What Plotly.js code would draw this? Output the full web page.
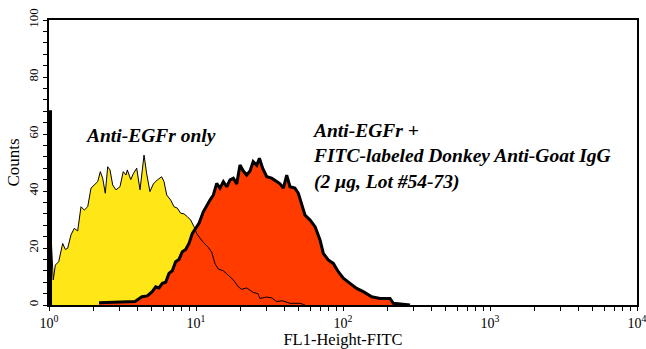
<!DOCTYPE html>
<html>
<head>
<meta charset="utf-8">
<script src="https://cdn.plot.ly/plotly-3.0.1.min.js"></script>
<style>html,body{margin:0;padding:0;background:#fff;}#chart{width:646px;height:349px;}</style>
</head>
<body>
<div id="chart"></div>
<script>
// Anti-EGFr only (yellow)
const yellowFL1 = [1.0, 1.032, 1.069, 1.104, 1.164, 1.239, 1.291, 1.34, 1.411, 1.486, 1.567, 1.651, 1.738, 1.834, 1.931, 2.033, 2.145, 2.234, 2.318, 2.415, 2.508, 2.6, 2.712, 2.855, 3.04, 3.2, 3.34, 3.41, 3.6, 3.74, 3.95, 4.16, 4.43, 4.62, 4.86, 5.13, 5.46, 5.84, 6.06, 6.32, 6.73, 7.08, 7.46, 7.87, 8.28, 8.73, 9.2, 9.69, 10.11, 10.64, 11.21, 12.13, 12.79, 13.47, 14.19, 15.35, 16.6, 17.95, 19.41, 20.46, 22.13, 23.3, 24.5, 26.4, 27.2, 30.3, 32.7, 35.4, 38.5, 43.6, 51.0, 55.1];
const yellowCounts = [24.6, 24.6, 8.8, 14, 15.2, 21.6, 19.5, 19.9, 24.6, 26.9, 26, 34.5, 33.3, 34.5, 41, 42.1, 43.3, 46.8, 44.5, 39.2, 48.5, 47.4, 42.1, 40.4, 41.5, 46.8, 45.6, 47.4, 44, 46, 48, 40.4, 52.6, 46, 39.8, 42.5, 43.9, 45, 43.3, 38.6, 36.8, 34.5, 34, 32.2, 32, 31, 29.8, 27.5, 25.1, 23.5, 22, 20.2, 18.5, 14.5, 12.6, 12, 10.5, 8.8, 6.4, 5.5, 6, 5.2, 4.4, 4, 2.3, 2.8, 2.5, 1.2, 1.5, 0.6, 0.6, 0];

// Anti-EGFr + FITC-labeled Donkey Anti-Goat IgG (red): first-channel pile-up, then main peak
const redSpikeFL1 = [1.0, 1.0, 1.032, 1.032];
const redSpikeCounts = [0, 68, 68, 0];
const redFL1 = [2.19, 3.24, 3.85, 4.29, 4.66, 5.04, 5.32, 5.6, 5.9, 6.22, 6.55, 6.9, 7.27, 7.66, 8.07, 8.51, 8.96, 9.44, 9.95, 10.48, 11.21, 11.83, 12.45, 13.12, 13.83, 14.56, 15.35, 16.18, 17.04, 17.95, 18.92, 19.92, 20.99, 22.13, 23.3, 24.5, 25.9, 27.0, 28.4, 30.3, 32.7, 35.4, 37.3, 39.3, 41.4, 43.6, 47.1, 49.7, 52.4, 55.1, 59.7, 64.6, 69.8, 73.5, 79.4, 85.9, 92.9, 100.5, 111.6, 123.9, 137.4, 156.7, 178.6, 208.9, 219.9, 271.2, 285.6];
const redCounts = [0.8, 1.2, 1.2, 2.9, 3.2, 4.7, 6.4, 6, 7.6, 8, 11.1, 12, 15.2, 16, 18.7, 19.5, 21.6, 25.1, 26.9, 28.7, 32.7, 35.1, 36.8, 38.6, 42.7, 41, 43.3, 41.5, 43.9, 44.5, 42.5, 49.1, 47, 45.6, 47, 50.3, 49, 51.5, 48, 45, 44.5, 43.3, 42.5, 41, 45.6, 41.5, 41, 39.2, 35.1, 31.6, 29.8, 27.5, 22.8, 18.1, 15.8, 14.6, 11.7, 9.4, 7.6, 5.8, 4.7, 2.9, 2.3, 2.3, 0.6, 0.3, 0];

const xTickVals = [];
const xTickText = [];
const decades = [1, 10, 100, 1000];
decades.forEach(d => { for (let m = 1; m <= 9; m++) { xTickVals.push(m*d); xTickText.push(m === 1 ? '10<sup>' + Math.round(Math.log10(d)) + '</sup>' : ''); } });
xTickVals.push(10000); xTickText.push('10<sup>4</sup>');

const yTickVals = [];
const yTickText = [];
for (let v = 0; v <= 100; v += 4) { yTickVals.push(v); yTickText.push(v % 20 === 0 ? String(v) : ''); }

const serif = '"Liberation Serif"';

const traces = [
  {x: yellowFL1, y: yellowCounts, type: 'scatter', mode: 'lines', fill: 'tozeroy', fillcolor: '#FFE617', line: {width: 0, color: '#FFE617'}, hoverinfo: 'skip'},
  {x: redSpikeFL1, y: redSpikeCounts, type: 'scatter', mode: 'lines', fill: 'tozeroy', fillcolor: '#000', line: {width: 2, color: '#000'}, hoverinfo: 'skip'},
  {x: redFL1, y: redCounts, type: 'scatter', mode: 'lines', fill: 'tozeroy', fillcolor: '#FF3B00', line: {width: 3, color: '#000'}, hoverinfo: 'skip'},
  {x: yellowFL1, y: yellowCounts, type: 'scatter', mode: 'lines', line: {width: 1, color: '#000'}, hoverinfo: 'skip'}
];

const layout = {
  width: 646, height: 349,
  margin: {l: 49, r: 9, t: 20, b: 44},
  paper_bgcolor: '#fff', plot_bgcolor: '#fff',
  showlegend: false,
  font: {family: serif, color: '#000', size: 13},
  xaxis: {
    type: 'log', range: [0, 4], showgrid: false, zeroline: false,
    showline: true, mirror: true, linecolor: '#000', linewidth: 2,
    ticks: 'outside', ticklen: 4, tickwidth: 1, tickcolor: '#000',
    tickmode: 'array', tickvals: xTickVals, ticktext: xTickText, tickangle: 0,
    ticklabeloverflow: 'allow',
    tickfont: {family: serif, size: 14},
    title: {text: 'FL1-Height-FITC', font: {family: serif, size: 16.5}, standoff: 4}
  },
  yaxis: {
    range: [0, 100], showgrid: false, zeroline: false,
    showline: true, mirror: true, linecolor: '#000', linewidth: 2,
    ticks: 'outside', ticklen: 4, tickwidth: 1, tickcolor: '#000',
    tickmode: 'array', tickvals: yTickVals, ticktext: yTickText,
    ticklabeloverflow: 'allow',
    tickangle: -90, tickfont: {family: serif, size: 13},
    title: {text: 'Counts', font: {family: serif, size: 17}, standoff: 2}
  },
  annotations: [
    {xref: 'paper', yref: 'paper', x: 0.0578, y: 0.596, xanchor: 'left', yanchor: 'middle', showarrow: false,
     text: '<b><i>Anti-EGFr only</i></b>', font: {family: serif, size: 19.5, color: '#000'}},
    {xref: 'paper', yref: 'paper', x: 0.4439, y: 0.656, xanchor: 'left', yanchor: 'top', align: 'left', showarrow: false,
     text: '<b><i>Anti-EGFr +<br>FITC-labeled Donkey Anti-Goat IgG<br>(2 µg, Lot #54-73)</i></b>', font: {family: serif, size: 19.5, color: '#000'}}
  ]
};

Plotly.newPlot('chart', traces, layout, {staticPlot: true, displayModeBar: false});
</script>
</body>
</html>
